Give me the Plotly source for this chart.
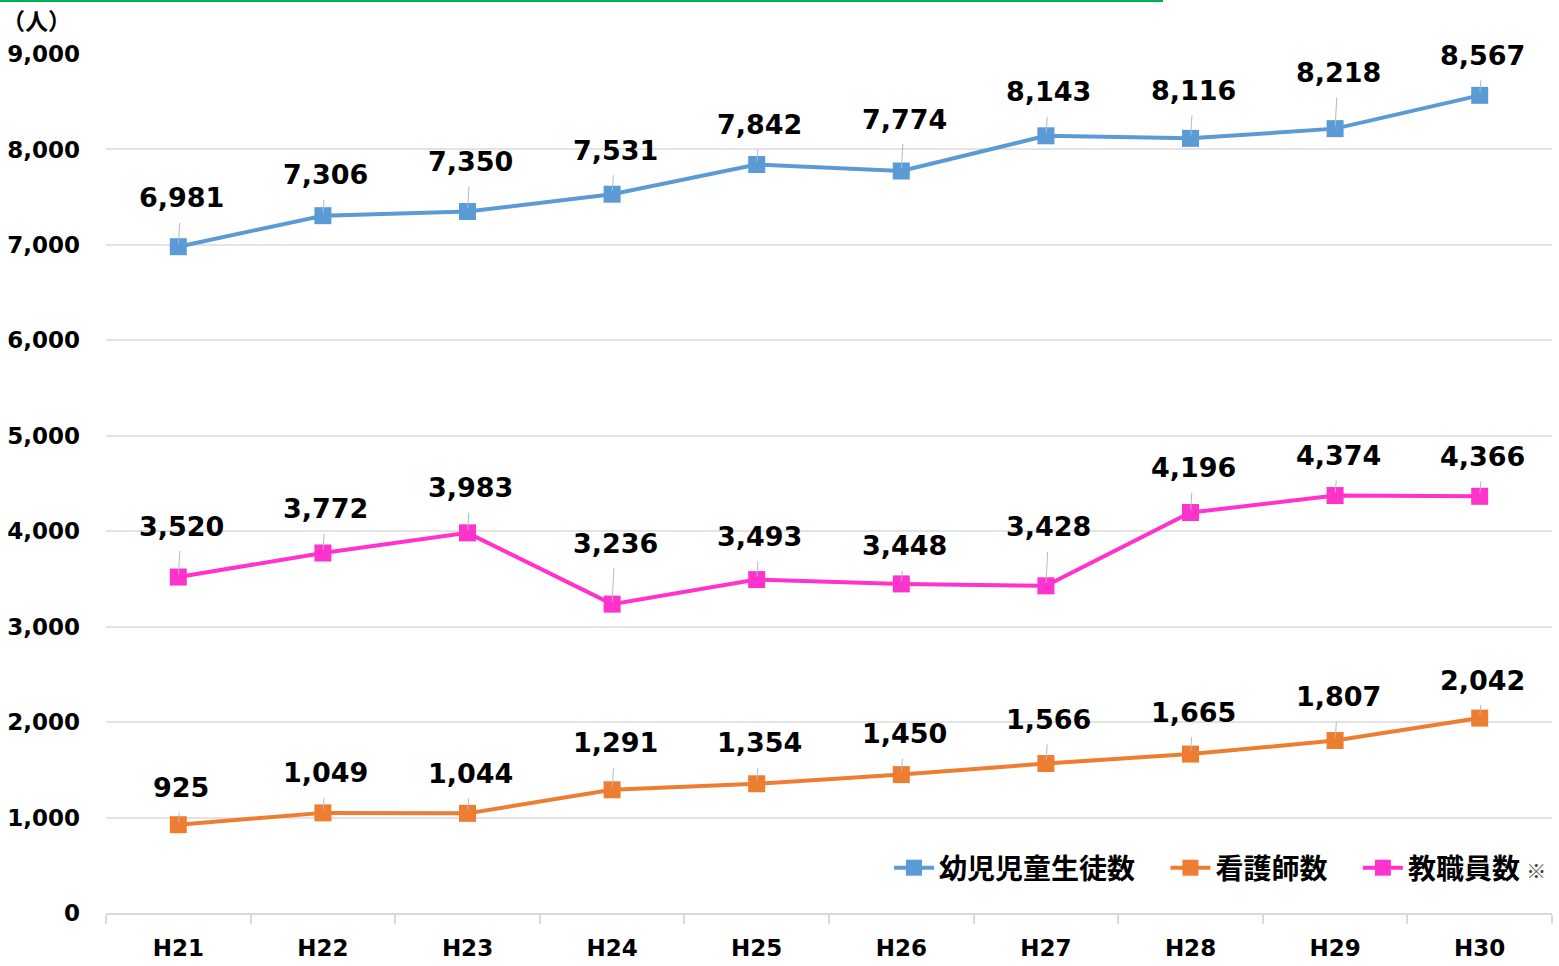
import plotly.graph_objects as go

categories = ["H21", "H22", "H23", "H24", "H25", "H26", "H27", "H28", "H29", "H30"]
students = [6981, 7306, 7350, 7531, 7842, 7774, 8143, 8116, 8218, 8567]
nurses = [925, 1049, 1044, 1291, 1354, 1450, 1566, 1665, 1807, 2042]
staff = [3520, 3772, 3983, 3236, 3493, 3448, 3428, 4196, 4374, 4366]

series_names = ["幼児児童生徒数", "看護師数", "教職員数"]
y_ticks = [0, 1000, 2000, 3000, 4000, 5000, 6000, 7000, 8000, 9000]

# label vertical offsets (px, up) for the data labels
students_dy = [49, 41, 50, 44, 40, 52, 44, 48, 56, 40]
nurses_dy = [37, 40, 40, 47, 41, 41, 44, 42, 44, 38]
staff_dy = [51, 44, 45, 61, 43, 38, 59, 45, 40, 40]

colors = ["#5B9BD5", "#ED7D31", "#FF33CC"]
num_font = "DejaVu Sans, Verdana, sans-serif"
cjk_font = "Noto Sans CJK JP, sans-serif"

W, H = 1559, 966
ml, mr, mt, mb = 106, 7, 54, 53
pw, ph = W - ml - mr, H - mt - mb

fig = go.Figure()
for i, (name, vals, col) in enumerate(zip(series_names, [students, nurses, staff], colors)):
    if i < 2:
        disp = name + "\u00a0\u00a0\u00a0\u00a0"
    else:
        disp = name + " <span style='font-size:20px;font-weight:normal;color:#444'>※</span>"
    fig.add_trace(go.Scatter(
        x=categories, y=vals, name=disp, mode="lines+markers",
        line=dict(color=col, width=4),
        marker=dict(symbol="square", size=17, color=col),
        hoverinfo="skip",
    ))

annotations = []
for vals, dys in [(students, students_dy), (nurses, nurses_dy), (staff, staff_dy)]:
    for c, v, dy in zip(categories, vals, dys):
        annotations.append(dict(
            x=c, y=v, xref="x", yref="y", text=f"<b>{v:,}</b>",
            showarrow=True, arrowhead=0, arrowwidth=1, arrowcolor="#AEBBCB",
            ax=3, ay=-dy, standoff=3, startstandoff=8,
            font=dict(family=num_font, size=27, color="#000000"),
        ))

annotations.append(dict(
    x=(36 - ml) / pw, y=(H - mb - 20) / ph, xref="paper", yref="paper",
    xanchor="center", yanchor="middle", text="<b>（人）</b>",
    showarrow=False, font=dict(family=cjk_font, size=23, color="#000"),
))

fig.update_layout(
    width=W, height=H,
    margin=dict(l=ml, r=mr, t=mt, b=mb, autoexpand=False),
    paper_bgcolor="white", plot_bgcolor="white",
    showlegend=True,
    legend=dict(
        orientation="h", x=1.0, xanchor="right", y=(H - mb - 868) / ph, yanchor="middle",
        font=dict(family=cjk_font, size=28, color="#000000", weight="bold"),
        bgcolor="rgba(0,0,0,0)", itemwidth=40, tracegroupgap=0,
    ),
    annotations=annotations,
    shapes=[dict(
        type="line", xref="paper", yref="paper",
        x0=(0 - ml) / pw, x1=(1163 - ml) / pw,
        y0=(H - mb - 1) / ph, y1=(H - mb - 1) / ph,
        line=dict(color="#00B050", width=2),
    )],
)
fig.update_xaxes(
    type="category", range=[-0.5, 9.5], automargin=False,
    showgrid=False, showline=True, linecolor="#D9D9D9", linewidth=2,
    ticks="outside", tickson="boundaries", ticklen=9, tickcolor="#D9D9D9", tickwidth=2,
    tickfont=dict(family=num_font, size=23, color="#000000", weight="bold"),
    ticklabelstandoff=13,
)
fig.update_yaxes(
    range=[0, 9000], tickvals=y_ticks, ticktext=[f"{t:,}" for t in y_ticks], automargin=False,
    showgrid=True, gridcolor="#E3E3E3", gridwidth=1.5, zeroline=False,
    showline=False, ticks="",
    tickfont=dict(family=num_font, size=23, color="#000000", weight="bold"),
    ticklabelstandoff=25,
)

fig.write_html(
    "out.html",
    config={"displayModeBar": False},
    post_script="document.body.style.margin='0';document.body.style.overflow='hidden';",
)
